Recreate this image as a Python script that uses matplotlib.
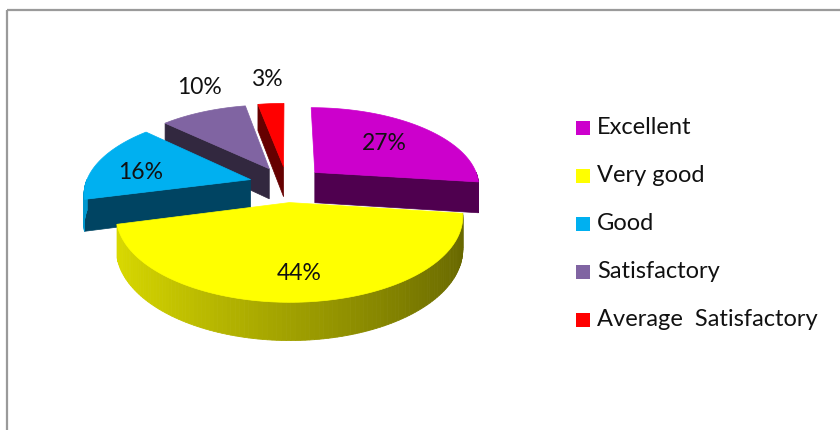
import numpy as np
import matplotlib.pyplot as plt
from matplotlib.patches import Polygon, Rectangle
import matplotlib.colors as mcolors

# data
labels = ['Excellent', 'Very good', 'Good', 'Satisfactory', 'Average  Satisfactory']
values = [27, 44, 16, 10, 3]
pct_labels = ['27%', '44%', '16%', '10%', '3%']

# styles
top_colors = ['#CC00CC', '#FFFF00', '#00B0F0', '#8064A2', '#FF0000']
side_colors = ['#4F004F', '#7A7A00', '#004462', '#32283F', '#660000']
label_r = [0.62, 0.75, 0.72, None, None]   # None -> label outside, above rim

plt.rcParams['font.family'] = ['Lato', 'DejaVu Sans']

# pie geometry (pixel space)
CX, CY = 287, 184
R, RY = 165, 78
K = 0.154          # perspective strength
H = 31             # thickness
EXPLODE = 0.23


def proj(x, y, z=0.0):
    s = 1.0 / (1.0 + K * y)
    return CX + R * x * s, CY - RY * y * s + H * z * s


fig = plt.figure(figsize=(8.4, 4.3), dpi=100)
ax = fig.add_axes([0, 0, 1, 1])
ax.set_xlim(0, 840)
ax.set_ylim(430, 0)
ax.axis('off')

# outer frame
ax.add_patch(Rectangle((7, 10), 840, 430, fill=False, edgecolor='#9a9a9a', lw=1.6))

total = float(sum(values))
slices = []
start = 90.0
for i, v in enumerate(values):
    sweep = v / total * 360.0
    th1, th2 = start, start - sweep
    mid = np.radians((th1 + th2) / 2)
    ox, oy = EXPLODE * np.cos(mid), EXPLODE * np.sin(mid)
    slices.append((i, th1, th2, mid, ox, oy))
    start = th2

# far slices first
for i, th1, th2, mid, ox, oy in sorted(slices, key=lambda s: -s[5]):
    t = np.radians(np.linspace(th1, th2, 120))
    rim_x = ox + np.cos(t)
    rim_y = oy + np.sin(t)

    # radial faces
    for th, vis in ((th1, np.cos(np.radians(th1)) < -1e-6),
                    (th2, np.cos(np.radians(th2)) > 1e-6)):
        if not vis:
            continue
        a = np.radians(th)
        ex, ey = ox + np.cos(a), oy + np.sin(a)
        pts = [proj(ox, oy, 0), proj(ex, ey, 0), proj(ex, ey, 1), proj(ox, oy, 1)]
        ax.add_patch(Polygon(pts, closed=True, facecolor=side_colors[i],
                             edgecolor=side_colors[i], lw=0.5))

    # outer wall (front half), shaded left -> right
    base = np.array(mcolors.to_rgb(top_colors[i]))
    for j in range(len(t) - 1):
        tm = (t[j] + t[j + 1]) / 2
        if np.sin(tm) >= 0:
            continue
        f = 0.63 - 0.23 * np.cos(tm)
        c = np.clip(base * f, 0, 1)
        pts = [proj(rim_x[j], rim_y[j], 0), proj(rim_x[j + 1], rim_y[j + 1], 0),
               proj(rim_x[j + 1], rim_y[j + 1], 1), proj(rim_x[j], rim_y[j], 1)]
        ax.add_patch(Polygon(pts, closed=True, facecolor=c, edgecolor=c, lw=0.6))

    # top face
    top = [proj(ox, oy)] + [proj(x, y) for x, y in zip(rim_x, rim_y)]
    ax.add_patch(Polygon(top, closed=True, facecolor=top_colors[i],
                         edgecolor=top_colors[i], lw=0.5))

    # percentage label
    if label_r[i] is not None:
        lx, ly = proj(ox + label_r[i] * np.cos(mid), oy + label_r[i] * np.sin(mid))
        if i == 2:
            ly += 6
    else:
        lx, ly = proj(ox + np.cos(mid), oy + np.sin(mid))
        lx -= 4
        ly -= 24
    ax.text(lx, ly, pct_labels[i], ha='center', va='center', fontsize=16.5, color='#111111')

# legend
for i, lab in enumerate(labels):
    y = 128 + i * 48
    ax.add_patch(Rectangle((576, y - 7), 14, 14, facecolor=top_colors[i], edgecolor='none'))
    ax.text(597, y, lab, ha='left', va='center', fontsize=17, color='#111111')

fig.savefig('out.png', dpi=100)
